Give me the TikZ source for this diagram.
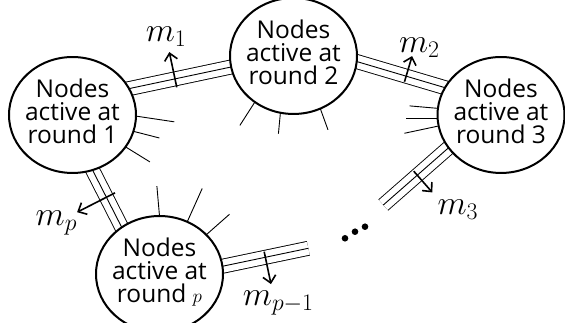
\documentclass[tikz,border=0pt]{standalone}
\usepackage{fix-cm}
\usepackage[no-math]{fontspec}
\setmainfont{Open Sans}
\usetikzlibrary{arrows.meta, calc, backgrounds, shapes.geometric}

\newcommand{\roundfont}{\fontsize{24.5}{23}\selectfont}
\newcommand{\msgfont}{\fontsize{34}{34}\selectfont}
\newcommand{\toppad}{\rule{0pt}{24pt}}
\newcommand{\botpad}{\rule[-12pt]{0pt}{12pt}}

\begin{document}
\begin{tikzpicture}[
    x=1pt, y=1pt,
    roundnode/.style={ellipse, draw, line width=2pt, fill=white, minimum width=127pt, minimum height=97pt, inner xsep=-12pt, inner ysep=0pt, outer sep=0pt, align=center, font=\roundfont},
    triple/.style={line width=0.9pt, preaction={draw, double distance=13.1pt}},
    stub/.style={line width=0.9pt},
    msg/.style={-{Straight Barb[length=7pt, width=13pt]}, line width=1.6pt},
    msglabel/.style={inner sep=0pt, anchor=base west, font=\msgfont}
]
\useasboundingbox (0,0) rectangle (565,323);

% rounds
\node[roundnode] (e1) at (72.5,208) {\toppad Nodes\\active at\\round 1\botpad};
\node[roundnode] (e2) at (293.5,267) {\toppad Nodes\\active at\\round 2\botpad};
\node[roundnode] (e3) at (501,208) {\toppad Nodes\\active at\\round 3\botpad};
\node[roundnode] (ep) at (159.5,49) {\toppad Nodes\\active at\\round {\fontsize{19}{19}\selectfont$p$}\botpad};

% open ends
\coordinate (d3) at (383.3,118);
\coordinate (dp) at (308.3,74.7);

% links between rounds
\begin{scope}[on background layer]
\draw[triple, shorten <=-8pt, shorten >=-8pt] (e1.25) -- coordinate[pos=0.45] (a12) (e2.190);
\draw[triple, shorten <=-8pt, shorten >=-8pt] (e2.355) -- coordinate[pos=0.56] (a23) (e3.154);
\draw[triple, shorten <=-8pt] (e3.212) -- coordinate[pos=0.48] (a3d) (d3);
\draw[triple, shorten <=-8pt, shorten >=-8pt] (e1.290) -- coordinate[pos=0.475] (a1p) (ep.129);
\draw[triple, shorten <=-8pt] (ep.7) -- coordinate[pos=0.5] (apd) (dp);
\end{scope}

% other edges
\foreach \a/\d/\l in {359/-8.5/38.7, 345.3/-14.4/26.8, 329.2/-31.7/28.6}
  \draw[stub] (e1.\a) -- ++(\d:\l);
\foreach \a/\d/\l in {230.2/237.3/27.8, 257.6/264.6/21.1, 297/289.9/22.6}
  \draw[stub] (e2.\a) -- ++(\d:\l);
\foreach \a/\d/\l in {174/175/28.4, 183/180/31.6, 190/192/35}
  \draw[stub] (e3.\a) -- ++(\d:\l);
\foreach \a/\d/\l in {90/95/30, 62.5/65.8/36.5, 40/41.4/31}
  \draw[stub] (ep.\a) -- ++(\d:\l);

% messages
\draw[msg] ($(a12)!8.6pt!-90:(e2.190)$) -- ($(a12)!27.4pt!90:(e2.190)$) coordinate (t1);
\node[msglabel] (m1) at ([shift={(-23.7,10.4)}]t1) {$m_1$};
\draw[msg] ($(a23)!5.8pt!-90:(e3.154)$) -- ($(a23)!21pt!90:(e3.154)$) coordinate (t2);
\node[msglabel] (m2) at ([shift={(-13.3,3.4)}]t2) {$m_2$};
\draw[msg] ($(a3d)!5.4pt!-90:(d3)$) -- ($(a3d)!22.9pt!90:(d3)$) coordinate (t3);
\node[msglabel] (m3) at ([shift={(5,-21.6)}]t3) {$m_3$};
\draw[msg] ($(a1p)!9.7pt!90:(ep.129)$) -- ($(a1p)!32.9pt!-90:(ep.129)$) coordinate (tp);
\node[msglabel] (mp) at ([shift={(-41.6,-13.3)}]tp) {$m_p$};
\draw[msg] ($(apd)!5.7pt!90:(dp)$) -- ($(apd)!27.4pt!-90:(dp)$) coordinate (tq);
\node[msglabel] (mq) at ([shift={(-28.3,-21.7)}]tq) {$m_{p-1}$};

% dots
\coordinate (dots) at (355,91.3);
\foreach \dx/\dy in {-10/-6.6, 0/0, 10/5}
  \fill ([shift={(\dx,\dy)}]dots) circle (3.3);

\end{tikzpicture}
\end{document}
